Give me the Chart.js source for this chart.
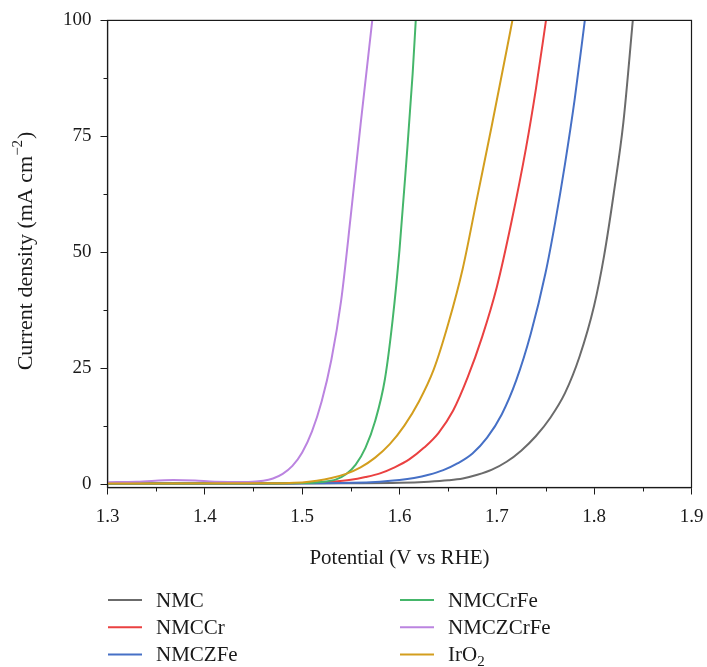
<!DOCTYPE html>
<html>
<head>
<meta charset="utf-8">
<title>LSV polarization curves</title>
<script src="https://cdn.jsdelivr.net/npm/chart.js@4.4.1/dist/chart.umd.min.js"></script>
<style>
  html, body { margin: 0; padding: 0; background: #fff; }
  #lsv { display: block; }
</style>
</head>
<body>
<canvas id="lsv" width="707" height="667"></canvas>
<script>
// series names and colours, in legend order (column by column)
var seriesNames = ["NMC", "NMCCr", "NMCZFe", "NMCCrFe", "NMCZCrFe", "IrO₂"];
var seriesColors = ["#6b6b6b", "#ea4141", "#4670c6", "#45b66a", "#bb84e0", "#d39e1e"];

// potential (V vs RHE) and current density (mA cm-2) per sample
var nmcV = [1.30, 1.45, 1.55, 1.60, 1.63, 1.65, 1.665, 1.68, 1.695, 1.71, 1.725, 1.74, 1.755, 1.77, 1.785, 1.80, 1.81, 1.82, 1.83, 1.8397];
var nmcJ = [0.1, 0.1, 0.15, 0.25, 0.5, 0.8, 1.2, 2.0, 3.1, 4.8, 7.2, 10.3, 14.3, 19.6, 27.5, 38.5, 49.0, 62.5, 78.0, 100];

var nmcCrV = [1.30, 1.45, 1.50, 1.53, 1.55, 1.565, 1.58, 1.595, 1.61, 1.625, 1.64, 1.655, 1.67, 1.685, 1.70, 1.715, 1.73, 1.74, 1.7505];
var nmcCrJ = [0.1, 0.1, 0.2, 0.5, 0.9, 1.5, 2.3, 3.6, 5.3, 7.8, 11.0, 15.8, 23.0, 31.8, 42.5, 56.5, 72.5, 85.0, 100];

var nmcZFeV = [1.30, 1.45, 1.55, 1.58, 1.60, 1.615, 1.63, 1.645, 1.66, 1.675, 1.69, 1.705, 1.72, 1.735, 1.75, 1.76, 1.77, 1.78, 1.7904];
var nmcZFeJ = [0.1, 0.1, 0.25, 0.5, 0.85, 1.3, 2.0, 3.0, 4.5, 6.6, 10.0, 15.0, 22.4, 32.5, 45.5, 56.5, 69.0, 83.0, 100];

var nmcCrFeV = [1.30, 1.45, 1.50, 1.52, 1.535, 1.545, 1.555, 1.565, 1.575, 1.585, 1.593, 1.600, 1.607, 1.6135, 1.6167];
var nmcCrFeJ = [0.1, 0.1, 0.2, 0.45, 1.0, 2.1, 4.2, 7.8, 13.6, 22.6, 35.5, 50.5, 69.5, 88.5, 100];

var nmcZCrFeV = [1.30, 1.33, 1.3675, 1.39, 1.41, 1.445, 1.46, 1.47, 1.48, 1.49, 1.50, 1.51, 1.52, 1.53, 1.54, 1.55, 1.56, 1.572];
var nmcZCrFeJ = [0.4, 0.5, 0.86, 0.75, 0.5, 0.45, 0.7, 1.2, 2.2, 3.9, 6.8, 11.3, 17.8, 26.8, 39.5, 58.0, 77.5, 100];

var iro2V = [1.30, 1.45, 1.50, 1.515, 1.53, 1.545, 1.56, 1.575, 1.59, 1.605, 1.62, 1.635, 1.65, 1.665, 1.68, 1.695, 1.71, 1.716];
var iro2J = [0.1, 0.15, 0.35, 0.7, 1.3, 2.2, 3.6, 5.7, 8.6, 12.6, 17.8, 24.6, 34.5, 46.5, 62.0, 77.5, 93.5, 100];

var seriesV = [nmcV, nmcCrV, nmcZFeV, nmcCrFeV, nmcZCrFeV, iro2V];
var seriesJ = [nmcJ, nmcCrJ, nmcZFeJ, nmcCrFeJ, nmcZCrFeJ, iro2J];

// axis ticks
var xTicks = [1.3, 1.4, 1.5, 1.6, 1.7, 1.8, 1.9];
var xMinorTicks = [1.35, 1.45, 1.55, 1.65, 1.75, 1.85];
var yTicks = [0, 25, 50, 75, 100];
var yMinorTicks = [12.5, 37.5, 62.5, 87.5];

var serif = '"Liberation Serif", "DejaVu Serif", serif';
var ink = '#1a1a1a';

var datasets = seriesNames.map(function (name, i) {
	var pts = [];
	for (var k = 0; k < seriesV[i].length; k++) {
		pts.push({ x: seriesV[i][k], y: seriesJ[i][k] });
	}
	return {
		label: name,
		data: pts,
		showLine: true,
		borderColor: seriesColors[i],
		backgroundColor: seriesColors[i],
		borderWidth: 2,
		pointRadius: 0,
		cubicInterpolationMode: 'monotone',
		order: seriesNames.length - i
	};
});

// text with a raised or lowered small part
var drawScript = function (ctx, parts, x, y, size) {
	parts.forEach(function (p) {
		var small = p.sup || p.sub;
		ctx.font = (small ? Math.round(size * 0.7) : size) + 'px ' + serif;
		var dy = p.sup ? -size * 0.36 : (p.sub ? size * 0.3 : 0);
		ctx.fillText(p.text, x, y + dy);
		x += ctx.measureText(p.text).width + (small ? 1 : 0);
	});
	return x;
};

var measureScript = function (ctx, parts, size) {
	var w = 0;
	parts.forEach(function (p) {
		var small = p.sup || p.sub;
		ctx.font = (small ? Math.round(size * 0.7) : size) + 'px ' + serif;
		w += ctx.measureText(p.text).width + (small ? 1 : 0);
	});
	return w;
};

var splitLabel = function (label) {
	var i = label.indexOf('₂');
	if (i < 0) return [{ text: label }];
	return [{ text: label.slice(0, i) }, { text: '2', sub: true }];
};

// box round the plot plus short minor ticks
var frameAndMinorTicks = {
	id: 'frameAndMinorTicks',
	afterDraw: function (chart) {
		var ctx = chart.ctx, a = chart.chartArea;
		var xs = chart.scales.x, ys = chart.scales.y;
		ctx.save();
		ctx.strokeStyle = ink;
		ctx.lineWidth = 1.2;
		ctx.strokeRect(a.left, a.top, a.right - a.left, a.bottom - a.top);
		ctx.lineWidth = 1;
		ctx.beginPath();
		xMinorTicks.forEach(function (v) {
			var px = Math.round(xs.getPixelForValue(v)) + 0.5;
			ctx.moveTo(px, a.bottom);
			ctx.lineTo(px, a.bottom + 4);
		});
		yMinorTicks.forEach(function (v) {
			var py = Math.round(ys.getPixelForValue(v)) + 0.5;
			ctx.moveTo(a.left, py);
			ctx.lineTo(a.left - 4, py);
		});
		ctx.stroke();
		ctx.restore();
	}
};

// rotated y title with a proper superscript
var yTitle = {
	id: 'yTitle',
	afterDraw: function (chart) {
		var ctx = chart.ctx, a = chart.chartArea;
		var parts = [{ text: 'Current density (mA cm' }, { text: '−2', sup: true }, { text: ')' }];
		ctx.save();
		ctx.translate(26, (a.top + a.bottom) / 2 - 3);
		ctx.rotate(-Math.PI / 2);
		ctx.fillStyle = ink;
		ctx.textBaseline = 'middle';
		var w = measureScript(ctx, parts, 22);
		drawScript(ctx, parts, -w / 2, 0, 22);
		ctx.restore();
	}
};

// two-column legend under the plot
var legendBlock = {
	id: 'legendBlock',
	afterDraw: function (chart) {
		var ctx = chart.ctx;
		ctx.save();
		ctx.textBaseline = 'middle';
		chart.data.datasets.forEach(function (ds, i) {
			var col = Math.floor(i / 3), row = i % 3;
			var x = col ? 400 : 108;
			var y = 600 + row * 27.3;
			ctx.strokeStyle = ds.borderColor;
			ctx.lineWidth = 2;
			ctx.beginPath();
			ctx.moveTo(x, y);
			ctx.lineTo(x + 34, y);
			ctx.stroke();
			ctx.fillStyle = ink;
			drawScript(ctx, splitLabel(ds.label), x + 48, y + 1, 21);
		});
		ctx.restore();
	}
};

new Chart(document.getElementById('lsv'), {
	type: 'scatter',
	data: { datasets: datasets },
	options: {
		responsive: false,
		animation: false,
		layout: { padding: { left: 10, right: 15.5, top: 19.5, bottom: 89.5 } },
		plugins: {
			legend: { display: false },
			tooltip: { enabled: false }
		},
		scales: {
			x: {
				type: 'linear',
				min: 1.3,
				max: 1.9,
				afterBuildTicks: function (s) { s.ticks = xTicks.map(function (v) { return { value: v }; }); },
				afterFit: function (s) {
					s.height = 90;
					// end labels may hang into the padding
					s.paddingLeft = 0;
					s.paddingRight = 0;
				},
				grid: { drawOnChartArea: false, tickLength: 7, color: ink },
				border: { color: ink, width: 1.2 },
				ticks: {
					color: ink,
					font: { family: serif, size: 19 },
					padding: 11,
					autoSkip: false,
					maxRotation: 0,
					callback: function (v) { return v.toFixed(1); }
				},
				title: {
					display: true,
					text: 'Potential (V vs RHE)',
					color: ink,
					font: { family: serif, size: 21 },
					padding: { top: 4, bottom: 6 }
				}
			},
			y: {
				type: 'linear',
				min: -0.75,
				max: 100,
				afterBuildTicks: function (s) { s.ticks = yTicks.map(function (v) { return { value: v }; }); },
				afterFit: function (s) { s.width = 97.5; },
				grid: { drawOnChartArea: false, tickLength: 7, color: ink },
				border: { color: ink, width: 1.2 },
				ticks: {
					color: ink,
					font: { family: serif, size: 19 },
					padding: 9,
					autoSkip: false
				},
				title: { display: false }
			}
		}
	},
	plugins: [frameAndMinorTicks, yTitle, legendBlock]
});
</script>
</body>
</html>
